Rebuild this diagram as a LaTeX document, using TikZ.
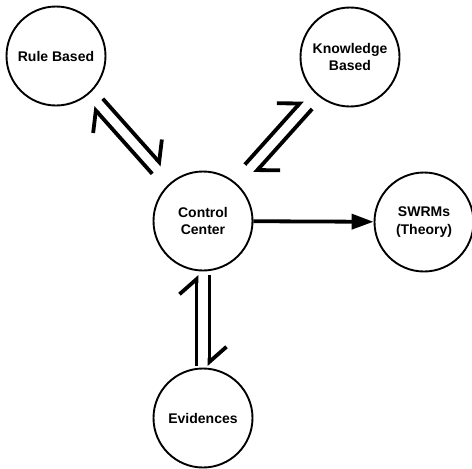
\documentclass[tikz,border=0pt]{standalone}
\usepackage{fontspec}
\setmainfont{Liberation Sans}
\usepackage{tikz}
\usetikzlibrary{arrows.meta,calc,positioning}
\tikzset{every shadow/.style={}}
% one barbed half-arrow, shifted to the left of its direction
\newcommand{\harpoon}[4]{%
  \draw[harp] ($(#1)!#3!(#2)!6.5pt!90:(#2)$) -- ($(#2)!#4!(#1)!6.5pt!-90:(#1)$);}

\begin{document}
\begin{tikzpicture}[x=1pt,y=1pt,
  state/.style={circle, draw, line width=1.9pt, minimum size=99pt, inner sep=0pt,
    align=center, font=\fontsize{14}{17.5}\selectfont\bfseries},
  harp/.style={line width=3.8pt, -{Straight Barb[left,length=15pt,width=34pt]}},
  flow/.style={line width=3.8pt, -{Triangle[length=22pt,width=15pt]}}]
  \useasboundingbox (0,0) rectangle (472,-469);
  \node[state] (rule) at (56,-56) {Rule Based};
  \node[state] (know) at (350,-57) {Knowledge\\Based};
  \node[state] (ctrl) at (203,-221) {Control\\Center};
  \node[state] (swrm) at (424,-222) {SWRMs\\(Theory)};
  \node[state] (evid) at (203,-418) {Evidences};
  % both ways
  \harpoon{rule}{ctrl}{63pt}{69pt}
  \harpoon{ctrl}{rule}{69pt}{63pt}
  \harpoon{ctrl}{know}{70pt}{64pt}
  \harpoon{know}{ctrl}{64pt}{70pt}
  \harpoon{evid}{ctrl}{52pt}{54pt}
  \harpoon{ctrl}{evid}{54pt}{52pt}
  % one way
  \draw[flow] (ctrl) -- (swrm);
\end{tikzpicture}
\end{document}
